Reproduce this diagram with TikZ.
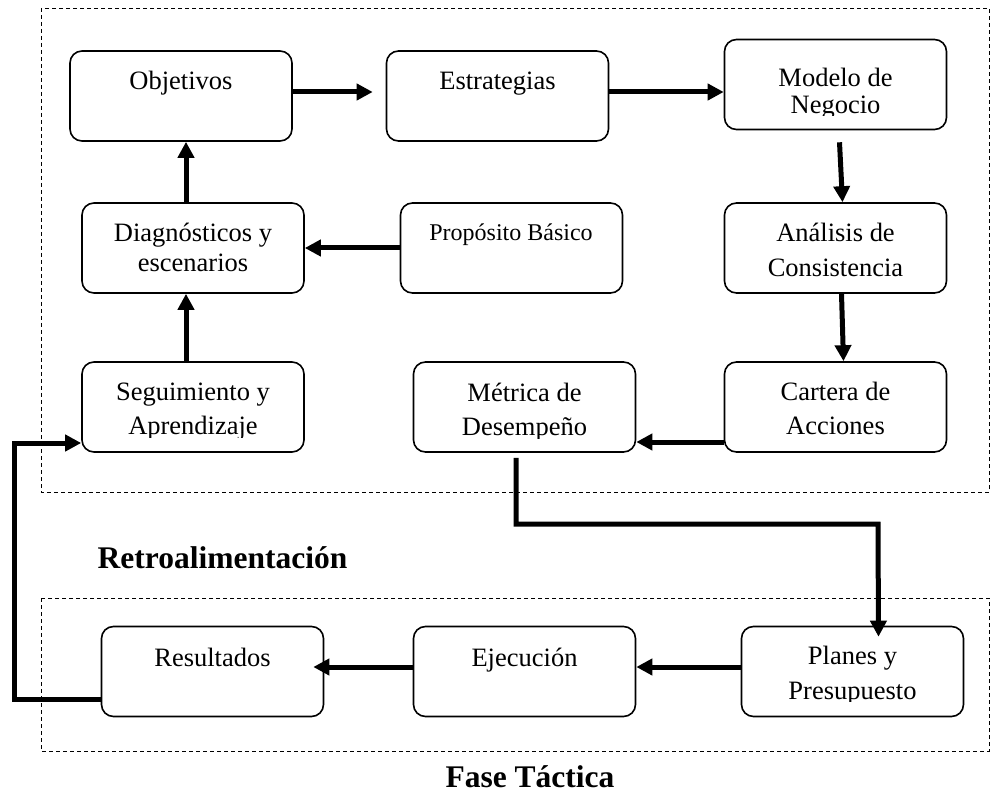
\documentclass[tikz,border=0pt]{standalone}
\usepackage{fontspec}
\setmainfont{Liberation Serif}
\usetikzlibrary{arrows.meta}
\begin{document}
\begin{tikzpicture}[x=1pt,y=-1pt,
  box/.style={draw, line width=1.6pt, rounded corners=12pt,
    minimum width=222pt, minimum height=90pt, inner sep=0pt},
  txt/.style={anchor=base, inner sep=0pt, font=\fontsize{26.5}{30}\selectfont},
  smalltxt/.style={anchor=base, inner sep=0pt, font=\fontsize{24}{28}\selectfont},
  heading/.style={anchor=base, inner sep=0pt, font=\fontsize{31.5}{36}\selectfont\bfseries},
  flow/.style={line width=5pt, line join=miter,
    -{Triangle[length=16pt,width=16pt]}},
  frame/.style={line width=0.9pt, dash pattern=on 4pt off 3pt}]

\useasboundingbox (0,0) rectangle (991,794);

% phase frames
\draw[frame] (41,8) rectangle (989,492);
\draw[frame] (41,598) rectangle (989,751);

% boxes
\node[box] (obj) at (181,96) {};
\node[box] (est) at (497.5,96) {};
\node[box] (mod) at (835.5,84.5) {};
\node[box] (dia) at (193,248) {};
\node[box] (pro) at (511.5,248) {};
\node[box] (ana) at (835.5,248) {};
\node[box] (seg) at (193,407) {};
\node[box] (met) at (524.5,407) {};
\node[box] (car) at (835.5,407) {};
\node[box] (res) at (212.5,671.5) {};
\node[box] (eje) at (524.5,671.5) {};
\node[box] (pla) at (852.5,671.5) {};

% box texts
\node[txt] (tobj) at (181,90) {Objetivos};
\node[txt] (test) at (497.5,90) {Estrategias};
\node[txt] (tmod1) at (835.5,87) {Modelo de};
\begin{scope}
  \clip (725,95) rectangle (946,116);
  \node[txt] (tmod2) at (835.5,114) {Negocio};
\end{scope}
\node[txt] (tdia1) at (193,242) {Diagnósticos y};
\node[txt] (tdia2) at (193,272) {escenarios};
\node[smalltxt] (tpro) at (511,241) {Propósito Básico};
\node[txt] (tana1) at (835.5,242) {Análisis de};
\node[txt] (tana2) at (835.5,277) {Consistencia};
\node[txt] (tseg1) at (193,400) {Seguimiento y};
\begin{scope}
  \clip (83,405) rectangle (303,437);
  \node[txt] (tseg2) at (193,434) {Aprendizaje};
\end{scope}
\node[txt] (tmet1) at (524.5,401) {Métrica de};
\begin{scope}
  \clip (414,406) rectangle (635,438);
  \node[txt] (tmet2) at (524.5,435) {Desempeño};
\end{scope}
\node[txt] (tcar1) at (835.5,400) {Cartera de};
\node[txt] (tcar2) at (835.5,434) {Acciones};
\node[txt] (tres) at (212.5,666) {Resultados};
\node[txt] (teje) at (524.5,666) {Ejecución};
\node[txt] (tpla1) at (852.5,664) {Planes y};
\begin{scope}
  \clip (742,670) rectangle (963,701);
  \node[txt] (tpla2) at (852.5,699) {Presupuesto};
\end{scope}

% headings
\node[heading] (hret) at (222.5,568) {Retroalimentación};
\node[heading] (hfas) at (530,787) {Fase Táctica};

% strategic chain
\draw[flow] ([yshift=4pt]obj.east) -- ([xshift=-13pt,yshift=4pt]est.west);
\draw[flow] ([yshift=4pt]est.east) -- ([yshift=4pt]est.east -| mod.west);
\draw[flow] ([xshift=4pt,yshift=-12pt]mod.south) -- ([xshift=7pt]ana.north);
\draw[flow] ([xshift=6pt]ana.south) -- ([xshift=8pt]car.north);
\draw[flow] ([yshift=-35pt]car.west) -- ([yshift=-35pt]car.west -| met.east);
\draw[flow] (pro.west) -- (pro.west -| dia.east);
\draw[flow] ([xshift=-7pt]dia.north) -- ([xshift=-7pt]dia.north |- obj.south);
\draw[flow] ([xshift=-7pt]seg.north) -- ([xshift=-7pt]seg.north |- dia.south);

% into the tactical phase
\coordinate (bend) at (878,524);
\draw[flow] ([xshift=-8.5pt,yshift=-5pt]met.south) |- (bend)
  -- ([xshift=26pt,yshift=-11pt]pla.north);

% tactical chain
\draw[flow] ([yshift=4.5pt]pla.west) -- ([yshift=4.5pt]pla.west -| eje.east);
\draw[flow] ([yshift=4.5pt]eje.west) -- ([xshift=-11pt,yshift=4.5pt]res.east);

% feedback loop
\coordinate (loop) at (14,443);
\draw[flow] ([yshift=-27.5pt]res.west) -| (loop) -- ([yshift=-36pt]seg.west);

\end{tikzpicture}
\end{document}
